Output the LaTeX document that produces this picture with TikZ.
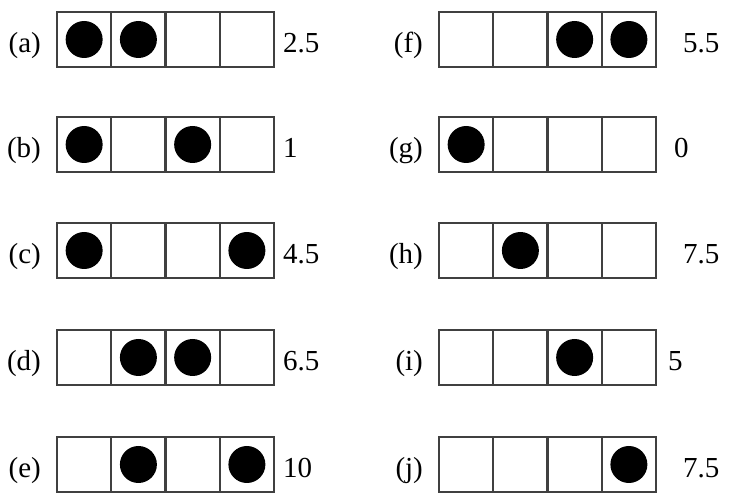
\documentclass[tikz,border=0pt]{standalone}
\usepackage{fontspec}
\setmainfont{Liberation Serif}
\begin{document}
\begin{tikzpicture}[x=.5pt,y=-.5pt,line width=1.1pt,font=\fontsize{14.5}{17}\selectfont]
\useasboundingbox (0,0) rectangle (736,502);
\foreach \c/\x/\y/\v/\vx/\on in {a/57/12/2.5/282/{1,2},b/57/117/1/282/{1,3},c/57/223/4.5/282/{1,4},d/57/330/6.5/282/{2,3},e/57/437/10/282/{2,4},
  f/439/12/5.5/682/{3,4},g/439/117/0/673/{1},h/439/223/7.5/682/{2},i/439/330/5/667/{3},j/439/437/7.5/682/{4}}{
  \draw[black!75] (\x,\y) rectangle ++(217,55);
  \foreach \k in {1,2,3}{\draw[black!75] (\x+54.25*\k,\y) -- ++(0,55);}
  \foreach \k in \on {\fill (\x+54.25*\k-27.1,\y+27.5) circle (9.25pt);}
  \node[anchor=base east,inner sep=0pt] (tag\c) at (\x-15,\y+41) {(\c)};
  \node[anchor=base west,inner sep=0pt] (val\c) at (\vx,\y+41) {\v};
}
\end{tikzpicture}
\end{document}
